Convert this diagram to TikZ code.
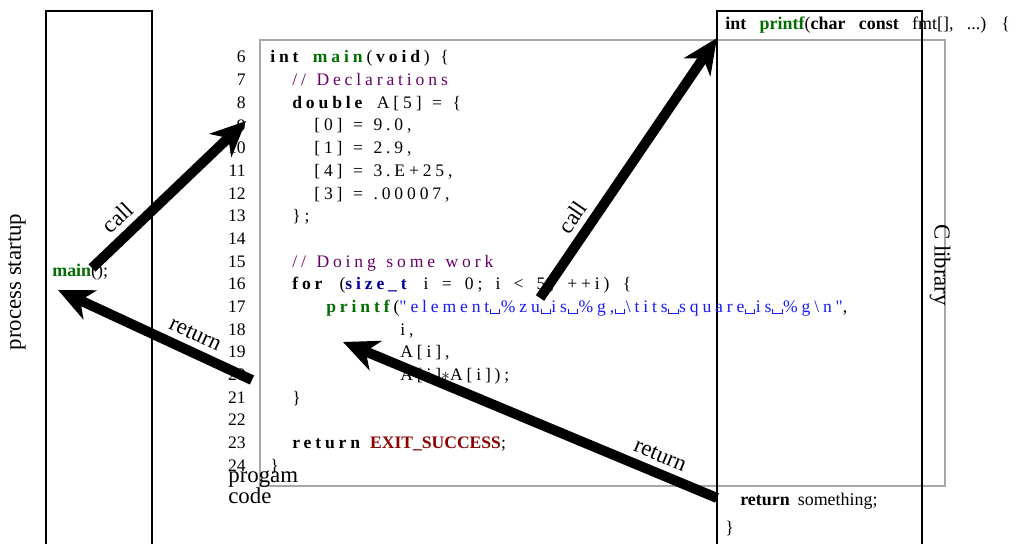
\documentclass[tikz,border=0pt]{standalone}
\usepackage{fontspec}
\setmainfont{Liberation Serif}
\newfontfamily\codefont[LetterSpace=22]{Liberation Serif}
\usetikzlibrary{arrows.meta}

\definecolor{fngreen}{RGB}{0,110,0}
\definecolor{cmtpurple}{RGB}{105,0,105}
\definecolor{strblue}{RGB}{25,25,245}
\definecolor{typeblue}{RGB}{0,0,150}
\definecolor{macrored}{RGB}{140,0,0}

% visible space as in a listing
\newcommand\vsp{\kern.05em\rule[-.1em]{.04em}{.28em}\rule[-.1em]{.48em}{.04em}\rule[-.1em]{.04em}{.28em}\kern.05em}

\tikzset{
  code/.style={anchor=base west, inner sep=0pt, font=\codefont\fontsize{10}{12}\selectfont,
    execute at begin node=\setlength\spaceskip{.6em}},
  lineno/.style={anchor=base east, inner sep=0pt, font=\fontsize{10}{12}\selectfont},
  plain/.style={anchor=base west, inner sep=0pt, font=\fontsize{10.2}{12}\selectfont},
  biglabel/.style={font=\fontsize{13}{12}\selectfont},
  bigarrow/.style={line width=0.2cm, -{Stealth[length=20pt,width=18pt,inset=6pt]}},
  arrowlabel/.style={font=\fontsize{13}{15}\selectfont, sloped, above}
}

\begin{document}
\begin{tikzpicture}[x=0.02cm, y=-0.02cm]
\useasboundingbox (0,0) rectangle (1021,544);

% the frame of the listing
\draw[gray!70, line width=0.6pt] (260,40) rectangle (945,486);

% process startup and the C library
\draw[line width=1.2pt] (46,560) -- (46,11) -- (152,11) -- (152,560);
\draw[line width=1.2pt] (717,560) -- (717,11) -- (922,11) -- (922,560);
\node[biglabel, rotate=90] (startup) at (17,282) {process startup};
\node[biglabel, rotate=-90] (clib) at (940,265) {C library};
\node[plain] (maincall) at (52,276) {\textcolor{fngreen}{\textbf{main}}();};

% the line numbers
\foreach \n in {6,...,24}
  \node[lineno] (ln\n) at (246,{63+(\n-6)*22.67}) {\n};

% the program code
\node[code] (c6) at (270,63) {\textbf{int} \textcolor{fngreen}{\textbf{main}}(\textbf{void}) \{};
\node[code] (c7) at (292,85.7) {\textcolor{cmtpurple}{// Declarations}};
\node[code] (c8) at (292,108.3) {\textbf{double} A[5] = \{};
\node[code] (c9) at (314,131) {[0] = 9.0,};
\node[code] (c10) at (314,153.7) {[1] = 2.9,};
\node[code] (c11) at (314,176.4) {[4] = 3.E+25,};
\node[code] (c12) at (314,199) {[3] = .00007,};
\node[code] (c13) at (292,221.7) {\};};
\node[code] (c15) at (292,267) {\textcolor{cmtpurple}{// Doing some work}};
\node[code] (c16) at (292,289.8) {\setlength\spaceskip{.75em}\textbf{for} (\textcolor{typeblue}{\textbf{size\_t}} i = 0; i < 5; ++i) \{};
\node[code] (c17) at (326,312.4) {\textcolor{fngreen}{\textbf{printf}}(\textcolor{strblue}{"element\vsp\%zu\vsp is\vsp\%g,\vsp\textbackslash tits\vsp square\vsp is\vsp\%g\textbackslash n"},};
\node[code] (c18) at (400,335) {i,};
\node[code] (c19) at (400,357.8) {A[i],};
\node[code] (c20) at (400,380.5) {A[i]$*$A[i]);};
\node[code] (c21) at (292,403.2) {\}};
\node[code] (c23) at (292,448.5) {\textbf{return}\hspace{-.25em} {\rmfamily\bfseries\textcolor{macrored}{EXIT\_SUCCESS}};};
\node[code] (c24) at (270,471.2) {\}};
\node[biglabel, align=left, anchor=west, inner sep=0pt] (progcode) at (228,487) {progam\\code};

% the printf function
\node[plain] (printfhead) at (725,30) {\spaceskip=.75em\relax\textbf{int} \textcolor{fngreen}{\textbf{printf}}(\textbf{char} \textbf{const} fmt[], ...) \{};
\node[plain] (printfret) at (740,505) {\spaceskip=.45em\relax\textbf{return} something;};
\node[plain] (printfend) at (725,533) {\}};

% the calls and returns
\coordinate (mainfrom) at (92,268);
\coordinate (mainto) at (246,121);
\coordinate (retfrom) at (252,380);
\coordinate (retto) at (58,290);
\coordinate (printffrom) at (540,298);
\coordinate (printfto) at (717,38);
\coordinate (libfrom) at (717,498);
\coordinate (libto) at (343,342);
\draw[bigarrow] (mainfrom) -- node[arrowlabel, pos=0.25] {call} (mainto);
\draw[bigarrow] (retfrom) -- node[arrowlabel, pos=0.33] {return} (retto);
\draw[bigarrow] (printffrom) -- node[arrowlabel, pos=0.27] {call} (printfto);
\draw[bigarrow] (libfrom) -- node[arrowlabel, pos=0.17] {return} (libto);

\end{tikzpicture}
\end{document}
